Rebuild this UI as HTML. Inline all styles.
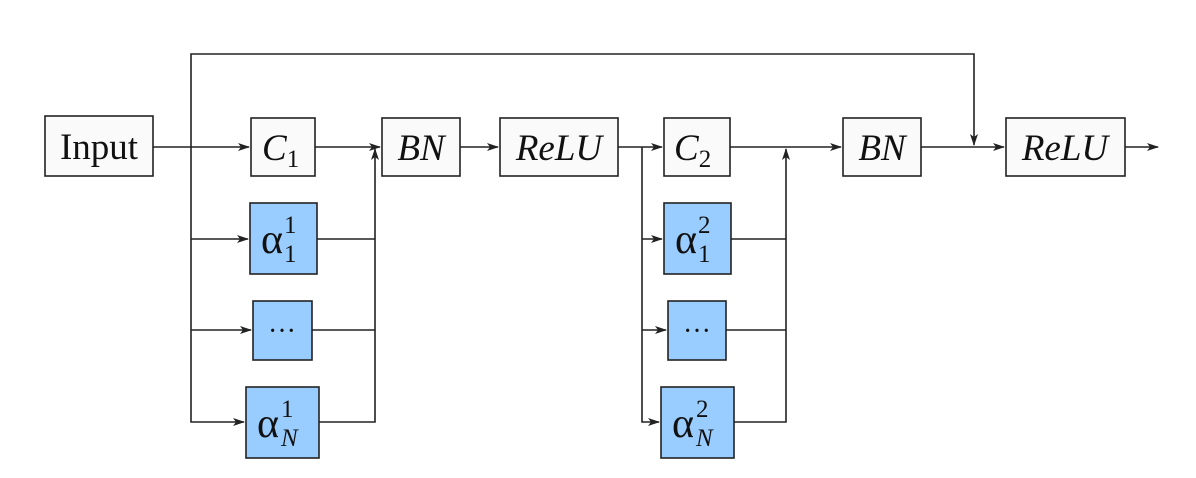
<!DOCTYPE html>
<html><head><meta charset="utf-8"><style>
body{margin:0;background:#fff;}
svg text{font-family:"Liberation Serif","DejaVu Serif",serif;fill:#111;}
</style></head><body>
<svg width="1196" height="473" viewBox="0 0 1196 473" xmlns="http://www.w3.org/2000/svg">
<defs><marker id="a" markerWidth="12" markerHeight="8" refX="11" refY="4" orient="auto" markerUnits="userSpaceOnUse"><path d="M0,0 L12,4 L0,8 L3,4 Z" fill="#222"/></marker></defs>
<g stroke="#222" stroke-width="1.6" fill="none">
<polyline points="191,147 191,54 974,54 974,145" marker-end="url(#a)"/>
<line x1="153" y1="147" x2="249" y2="147" marker-end="url(#a)"/>
<polyline points="191,147 191,422 244,422" marker-end="url(#a)"/>
<line x1="191" y1="239" x2="248" y2="239" marker-end="url(#a)"/>
<line x1="191" y1="330" x2="251" y2="330" marker-end="url(#a)"/>
<line x1="315" y1="147" x2="380" y2="147" marker-end="url(#a)"/>
<line x1="317" y1="239" x2="375" y2="239"/>
<line x1="312" y1="330" x2="375" y2="330"/>
<polyline points="319,422 375,422 375,149" marker-end="url(#a)"/>
<line x1="460" y1="147" x2="498" y2="147" marker-end="url(#a)"/>
<line x1="618" y1="147" x2="662" y2="147" marker-end="url(#a)"/>
<polyline points="642,147 642,422 659,422" marker-end="url(#a)"/>
<line x1="642" y1="239" x2="662" y2="239" marker-end="url(#a)"/>
<line x1="642" y1="330" x2="666" y2="330" marker-end="url(#a)"/>
<line x1="730" y1="147" x2="841" y2="147" marker-end="url(#a)"/>
<line x1="731" y1="239" x2="786" y2="239"/>
<line x1="726" y1="330" x2="786" y2="330"/>
<polyline points="734,422 786,422 786,149" marker-end="url(#a)"/>
<line x1="921" y1="147" x2="1004" y2="147" marker-end="url(#a)"/>
<line x1="1125" y1="147" x2="1158" y2="147" marker-end="url(#a)"/>
</g>
<g stroke="#222" stroke-width="1.6">
<rect x="45" y="116" width="108" height="60" fill="#fafafa"/>
<rect x="251" y="118" width="64" height="58" fill="#fafafa"/>
<rect x="382" y="118" width="78" height="58" fill="#fafafa"/>
<rect x="500" y="118" width="118" height="58" fill="#fafafa"/>
<rect x="664" y="118" width="66" height="58" fill="#fafafa"/>
<rect x="843" y="118" width="78" height="58" fill="#fafafa"/>
<rect x="1006" y="118" width="119" height="58" fill="#fafafa"/>
<rect x="250" y="203" width="67" height="71" fill="#99ccff"/>
<rect x="253" y="301" width="59" height="59" fill="#99ccff"/>
<rect x="246" y="387" width="73" height="71" fill="#99ccff"/>
<rect x="664" y="203" width="67" height="71" fill="#99ccff"/>
<rect x="668" y="301" width="58" height="59" fill="#99ccff"/>
<rect x="661" y="387" width="73" height="71" fill="#99ccff"/>
</g>
<g font-size="37">
<text x="99" y="159" text-anchor="middle">Input</text>
<text x="262" y="160" font-style="italic">C<tspan font-style="normal" font-size="25" dy="7">1</tspan></text>
<text x="421" y="160" text-anchor="middle" font-style="italic">BN</text>
<text x="559" y="160" text-anchor="middle" font-style="italic">ReLU</text>
<text x="674" y="160" font-style="italic">C<tspan font-style="normal" font-size="25" dy="7">2</tspan></text>
<text x="882" y="160" text-anchor="middle" font-style="italic">BN</text>
<text x="1065" y="160" text-anchor="middle" font-style="italic">ReLU</text>
<text x="261" y="253" font-size="42">α</text><text x="284" y="233" font-size="25">1</text><text x="284" y="262" font-size="25">1</text>
<text x="282" y="340" text-anchor="middle" font-size="28">···</text>
<text x="257" y="437" font-size="42">α</text><text x="281" y="417" font-size="25">1</text><text x="281" y="446" font-size="25" font-style="italic">N</text>
<text x="675" y="253" font-size="42">α</text><text x="698" y="233" font-size="25">2</text><text x="698" y="262" font-size="25">1</text>
<text x="697" y="340" text-anchor="middle" font-size="28">···</text>
<text x="672" y="437" font-size="42">α</text><text x="696" y="417" font-size="25">2</text><text x="696" y="446" font-size="25" font-style="italic">N</text>
</g>
</svg>
</body></html>
